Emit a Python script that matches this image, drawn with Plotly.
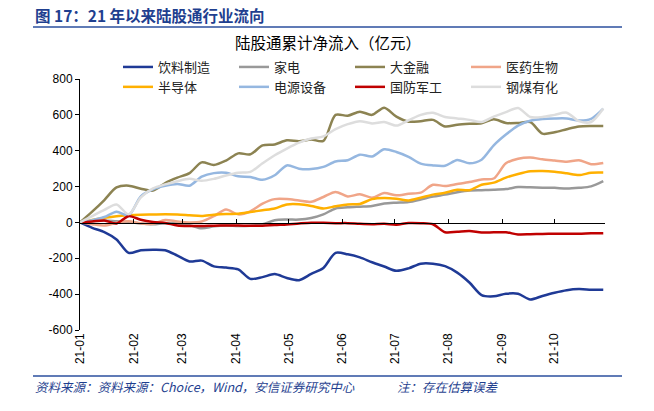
import plotly.graph_objects as go

dates = ["2021-01-01","2021-01-08","2021-01-15","2021-01-22","2021-01-29","2021-02-05","2021-02-12",
         "2021-02-19","2021-02-26","2021-03-05","2021-03-12","2021-03-19","2021-03-26","2021-04-02",
         "2021-04-09","2021-04-16","2021-04-23","2021-04-30","2021-05-07","2021-05-14","2021-05-21",
         "2021-05-28","2021-06-04","2021-06-11","2021-06-18","2021-06-25","2021-07-02","2021-07-09",
         "2021-07-16","2021-07-23","2021-07-30","2021-08-06","2021-08-13","2021-08-20","2021-08-27",
         "2021-09-03","2021-09-10","2021-09-17","2021-09-24","2021-10-01","2021-10-08","2021-10-15",
         "2021-10-22","2021-10-29"]

yinliao = [0,-30,-54,-95,-170,-155,-152,-155,-185,-218,-213,-245,-252,-262,-315,-305,-288,-310,-322,-287,
           -254,-170,-178,-195,-222,-246,-270,-256,-230,-230,-244,-280,-335,-405,-412,-398,-398,-430,-410,
           -392,-378,-372,-375,-376]
jiadian = [0,6,11,6,2,-6,-10,-4,-6,-15,-33,-22,-17,-20,-18,-10,12,16,16,25,45,78,84,88,92,105,110,114,
           128,144,155,168,178,180,182,186,197,196,194,193,189,193,201,230]
dajinrong = [0,60,125,195,205,188,178,220,250,275,335,320,345,385,380,430,435,458,453,462,455,600,595,618,
             600,640,590,562,565,572,535,545,550,553,575,555,555,560,495,503,520,535,538,538]
yiyao = [0,-10,-17,-2,6,-5,-8,14,5,0,5,35,72,45,62,105,130,130,122,115,142,170,145,157,138,164,151,160,
         166,210,203,214,225,240,245,330,355,362,352,345,338,347,325,332]
bandaoti = [0,14,26,35,40,43,44,45,44,40,36,43,47,48,58,68,78,100,101,92,78,90,100,103,130,136,132,123,
            138,155,165,182,180,210,222,250,270,285,287,283,274,264,277,278]
dianyuan = [0,12,30,60,40,145,185,205,215,205,255,275,277,257,254,238,263,318,300,298,310,340,347,378,
            368,408,393,366,328,318,316,348,330,350,430,490,540,567,577,580,580,568,578,635]
guofang = [0,5,11,-6,35,15,3,-3,-17,-20,-20,-18,-17,-17,-19,-18,-14,-11,-6,-2,-2,-4,-4,-8,-10,-8,-13,
           -3,-4,-10,-55,-52,-48,-56,-55,-55,-67,-66,-64,-63,-63,-63,-61,-60]
gangmei = [0,35,70,100,45,140,190,212,230,243,232,243,262,277,282,330,375,412,445,468,480,520,548,565,
           552,560,540,570,600,612,588,580,572,560,590,615,638,588,588,600,612,565,560,635]

series = [
    ("饮料制造", yinliao, "#1F3A96"),
    ("家电", jiadian, "#999999"),
    ("大金融", dajinrong, "#8C8352"),
    ("医药生物", yiyao, "#F0A588"),
    ("半导体", bandaoti, "#FFB000"),
    ("电源设备", dianyuan, "#95B7E0"),
    ("国防军工", guofang, "#C00000"),
    ("钢煤有化", gangmei, "#DDDDDD"),
]

yticks = [-600, -400, -200, 0, 200, 400, 600, 800]

fig = go.Figure()
for name, vals, color in series:
    fig.add_trace(go.Scatter(x=dates, y=vals, name=name, mode="lines",
                             line=dict(color=color, width=2.5, shape="spline", smoothing=0.8)))

# helper trace for the zero-line axis
fig.add_trace(go.Scatter(x=[dates[0]], y=[0], xaxis="x2", mode="markers",
                         marker=dict(opacity=0), showlegend=False, hoverinfo="skip"))

L, R, T, B = 80, 49, 79, 81
W, H = 654, 411
pw, ph = W - L - R, H - T - B

def px(x):
    return (x - L) / pw

def py(y):
    return (H - B - y) / ph

fig.update_layout(
    width=W, height=H,
    margin=dict(l=L, r=R, t=T, b=B, autoexpand=False),
    paper_bgcolor="white", plot_bgcolor="white",
    font=dict(family="Liberation Sans, Arial, Noto Sans CJK SC", size=12, color="black"),
    showlegend=True,
    legend=dict(orientation="h", x=px(118), y=py(52), xanchor="left", yanchor="top",
                entrywidth=71, entrywidthmode="pixels", traceorder="normal",
                font=dict(family="Noto Sans CJK SC", size=13, color="#222222"),
                bgcolor="rgba(0,0,0,0)", itemwidth=30, tracegroupgap=0),
    xaxis=dict(type="date", range=["2021-01-01", "2021-10-30"], dtick="M1", tick0="2021-01-01",
               tickformat="%y-%m", tickangle=-90, showgrid=False, zeroline=False,
               showline=False, ticks="", tickfont=dict(size=12, family="Liberation Sans")),
    xaxis2=dict(type="date", range=["2021-01-01", "2021-10-30"], dtick="M1", tick0="2021-01-01",
                overlaying="x", anchor="free", position=py(222.5), side="bottom",
                showline=True, linecolor="black", linewidth=1, ticks="inside", ticklen=4,
                tickcolor="black", showticklabels=False, showgrid=False, zeroline=False),
    yaxis=dict(range=[-600, 800], tickvals=yticks, ticktext=[str(v) for v in yticks],
               showline=True, linecolor="black", linewidth=1, ticks="outside", ticklen=4,
               tickcolor="black", showgrid=False, zeroline=False,
               tickfont=dict(size=12, family="Liberation Sans")),
)

blue = "#2B4F9E"
fig.add_shape(type="line", xref="paper", yref="paper", x0=px(33), x1=px(622), y0=py(27), y1=py(27),
              line=dict(color=blue, width=1.5))
fig.add_shape(type="line", xref="paper", yref="paper", x0=px(33), x1=px(622), y0=py(376), y1=py(376),
              line=dict(color=blue, width=1.5))

fig.add_annotation(text="<b>图 17：21 年以来陆股通行业流向</b>", xref="paper", yref="paper",
                   x=px(33), y=py(15), xanchor="left", yanchor="middle", showarrow=False,
                   font=dict(family="Noto Sans CJK SC", size=15.5, color="#1F3F8F"))
fig.add_annotation(text="陆股通累计净流入（亿元）", xref="paper", yref="paper",
                   x=px(328), y=py(42), xanchor="center", yanchor="middle", showarrow=False,
                   font=dict(family="Noto Sans CJK SC", size=15.5, color="black"))
fig.add_annotation(text="<i>资料来源：资料来源：Choice，Wind，安信证券研究中心</i>", xref="paper", yref="paper",
                   x=px(33), y=py(386), xanchor="left", yanchor="middle", showarrow=False,
                   font=dict(family="Noto Sans CJK SC", size=12.5, color="#1F3F8F"))
fig.add_annotation(text="<i>注：存在估算误差</i>", xref="paper", yref="paper",
                   x=px(395), y=py(386), xanchor="left", yanchor="middle", showarrow=False,
                   font=dict(family="Noto Sans CJK SC", size=12.5, color="#1F3F8F"))

fig.write_html("out.html", config={"displayModeBar": False},
               post_script="document.body.style.margin='0px';document.body.style.overflow='hidden';")
